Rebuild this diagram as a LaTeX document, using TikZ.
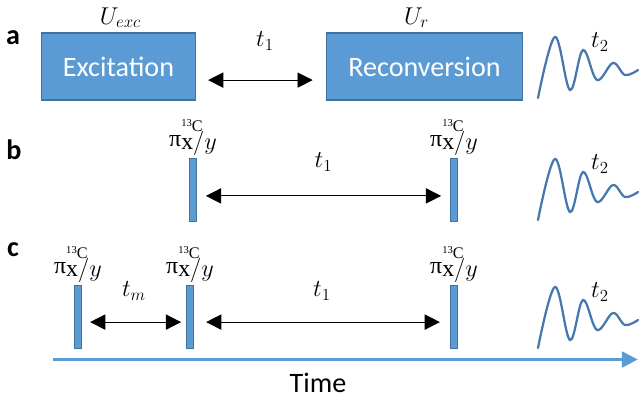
\documentclass[tikz,border=0pt]{standalone}
\usepackage{fontspec}
\setmainfont{Carlito}
\newfontfamily\greekfont{Liberation Serif}
\usepackage{tikz}
\usetikzlibrary{arrows.meta, positioning, calc}

\definecolor{boxblue}{HTML}{5B9BD5}
\definecolor{boxedge}{HTML}{41719C}
\definecolor{fidblue}{HTML}{4677AE}

% pulse label pi^{13C}_{x/y}
\newcommand{\pulselabel}{{\greekfont π\raisebox{-2pt}{\rlap{\raisebox{13pt}{\fontsize{11.5}{12}\selectfont\raisebox{3.5pt}{\fontsize{7.5}{8}\selectfont 13}C}}x$/y$}}}

\begin{document}
\begin{tikzpicture}[x=0.025cm, y=-0.025cm,
    stage/.style={draw=boxedge, fill=boxblue, line width=0.8pt, minimum height=1.675cm, inner sep=0pt, text=white, font=\fontsize{20}{24}\selectfont},
    pulse/.style={draw=boxedge, fill=boxblue, line width=0.7pt, minimum width=0.18cm, minimum height=1.575cm, inner sep=0pt},
    delay/.style={{Triangle[length=0.38cm, width=0.38cm]}-{Triangle[length=0.38cm, width=0.38cm]}, line width=0.7pt},
    rowlabel/.style={font=\fontsize{20}{24}\selectfont\bfseries},
    mathlabel/.style={font=\fontsize{17}{20}\selectfont, inner sep=1pt},
    timeaxis/.style={-{Triangle[length=0.4cm, width=0.38cm]}, draw=boxblue, line width=2.8pt},
    fid/.pic={
        \draw[fidblue, line width=1.6pt, line cap=round] plot[smooth, tension=0.6] coordinates {(0,0) (17,-61) (32,-8) (45,-48) (59,-18) (75,-35) (87,-23) (100,-28)};
        \node[mathlabel] (-lbl) at (62,-56) {$t_2$};
    }]
    \useasboundingbox (0,0) rectangle (640,402);

    % Row a
    \node[rowlabel] (rowa) at (13,38) {a};
    \node[stage, minimum width=3.85cm] (exc) at (118.5,66.5) {Excitation};
    \node[stage, minimum width=4.9cm] (recon) at (424.5,66.5) {Reconversion};
    \node[mathlabel, above=2pt of exc, xshift=0.05cm] (uexc) {$U_{exc}$};
    \node[mathlabel, above=2pt of recon, xshift=-0.2cm] (ur) {$U_{r}$};
    \draw[delay, shorten <=0.3cm, shorten >=0.33cm] ([yshift=-0.34cm]exc.east) -- ([yshift=-0.34cm]recon.west)
        node[mathlabel, midway, above=0.7cm, xshift=0.1cm] (ta) {$t_1$};
    \pic (fida) at (538,98) {fid};

    % Row b
    \node[rowlabel] (rowb) at (14,150) {b};
    \node[pulse] (pb1) at (193,189.5) {};
    \node[pulse] (pb2) at (454,189.5) {};
    \node[mathlabel, above=0pt of pb1] (lb1) {\pulselabel};
    \node[mathlabel, above=0pt of pb2] (lb2) {\pulselabel};
    \draw[delay, shorten <=0.22cm, shorten >=0.22cm] ([yshift=-0.16cm]pb1.east) -- ([yshift=-0.16cm]pb2.west)
        node[mathlabel, midway, above=0.57cm] (tb) {$t_1$};
    \pic (fidb) at (538,220) {fid};

    % Row c
    \node[rowlabel] (rowc) at (13,250) {c};
    \node[pulse] (pc1) at (78,316.5) {};
    \node[pulse] (pc2) at (190,316.5) {};
    \node[pulse] (pc3) at (454,316.5) {};
    \node[mathlabel, above=0pt of pc1] (lc1) {\pulselabel};
    \node[mathlabel, above=0pt of pc2] (lc2) {\pulselabel};
    \node[mathlabel, above=0pt of pc3] (lc3) {\pulselabel};
    \draw[delay, shorten <=0.2cm, shorten >=0.12cm] ([yshift=-0.14cm]pc1.east) -- ([yshift=-0.14cm]pc2.west)
        node[mathlabel, midway, above=0.5cm] (tm) {$t_m$};
    \draw[delay, shorten <=0.3cm, shorten >=0.25cm] ([yshift=-0.14cm]pc2.east) -- ([yshift=-0.14cm]pc3.west)
        node[mathlabel, midway, above=0.5cm] (tc) {$t_1$};
    \pic (fidc) at (538,348) {fid};

    % Time axis
    \coordinate (tstart) at (53,359.5);
    \coordinate (tend) at (638,359.5);
    \draw[timeaxis] (tstart) -- (tend);
    \node[font=\fontsize{20}{24}\selectfont] (time) at (318,383) {Time};
\end{tikzpicture}
\end{document}
